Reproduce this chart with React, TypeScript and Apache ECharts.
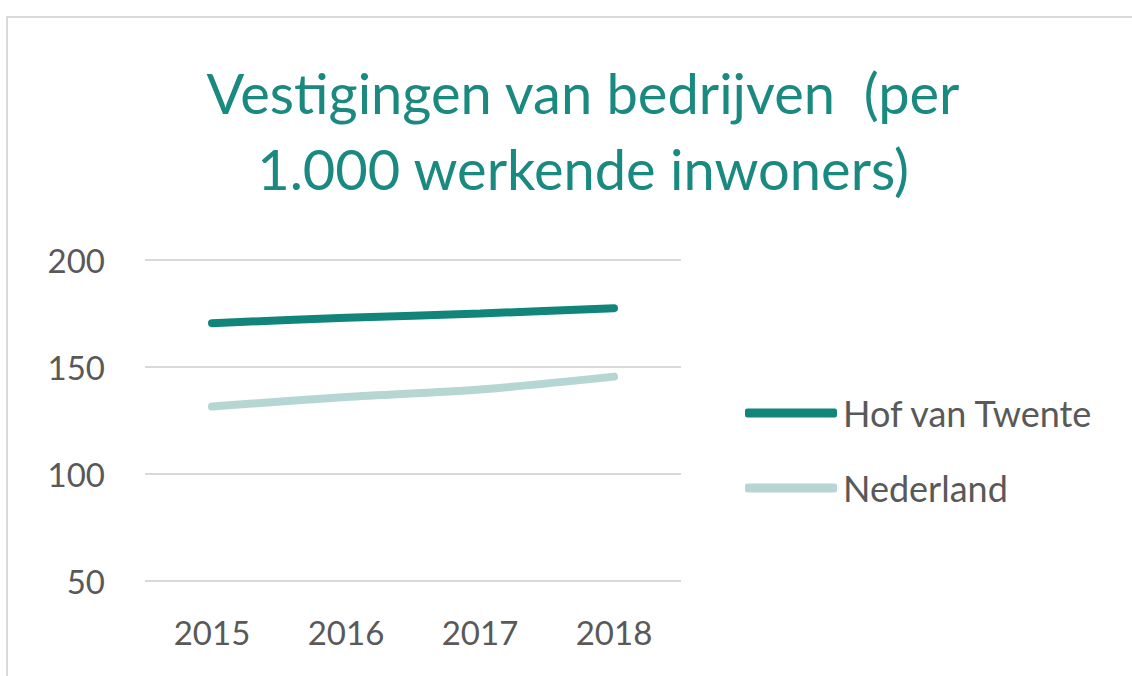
import React, { useEffect, useRef } from "react";
import * as echarts from "echarts";

const years = ["2015", "2016", "2017", "2018"];
const hofVanTwente = [170.5, 173, 175, 177.5];
const nederland = [131.5, 136, 139.5, 145.5];
const yTicks = { min: 50, max: 200, interval: 50 };
const titleLines = ["Vestigingen van bedrijven  (per", "1.000 werkende inwoners)"];

export default function App() {
  const ref = useRef<HTMLDivElement>(null);
  useEffect(() => {
    if (!ref.current) return;
    const chart = echarts.init(ref.current, undefined, { renderer: "svg" });
    const font = "Lato, 'Open Sans', sans-serif";
    chart.setOption({
      animation: false,
      backgroundColor: "#ffffff",
      graphic: [
        {
          type: "rect",
          shape: { x: 7, y: 17, width: 1200, height: 700 },
          style: { fill: "none", stroke: "#d9d9d9", lineWidth: 2 },
          z: -1,
        },
      ],
      title: [
        {
          text: titleLines[0],
          left: 578,
          top: 59,
          textAlign: "center",
          textStyle: { color: "#1a8a80", fontSize: 56, fontWeight: "normal", fontFamily: font },
        },
        {
          text: titleLines[1],
          left: 578,
          top: 135,
          textAlign: "center",
          textStyle: { color: "#1a8a80", fontSize: 56, fontWeight: "normal", fontFamily: font },
        },
      ],
      legend: {
        orient: "vertical",
        left: 740,
        top: 390,
        itemGap: 39,
        itemWidth: 92,
        itemHeight: 9,
        icon: "roundRect",
        textStyle: { color: "#595959", fontSize: 36, fontFamily: font, padding: [0, 0, 0, 1] },
        data: ["Hof van Twente", "Nederland"],
      },
      grid: { left: 145, right: 451, top: 260, bottom: 95 },
      xAxis: {
        type: "category",
        data: years,
        boundaryGap: true,
        axisLine: { show: false },
        axisTick: { show: false },
        axisLabel: { color: "#595959", fontSize: 33, fontFamily: font, margin: 34 },
      },
      yAxis: {
        type: "value",
        min: yTicks.min,
        max: yTicks.max,
        interval: yTicks.interval,
        axisLine: { show: false },
        axisTick: { show: false },
        axisLabel: { color: "#595959", fontSize: 33, fontFamily: font, margin: 40 },
        splitLine: { lineStyle: { color: "#d9d9d9", width: 2 } },
      },
      series: [
        {
          name: "Hof van Twente",
          type: "line",
          data: hofVanTwente,
          showSymbol: false,
          smooth: 0.3,
          itemStyle: { color: "#12857a" },
          lineStyle: { color: "#12857a", width: 8, cap: "round" },
        },
        {
          name: "Nederland",
          type: "line",
          data: nederland,
          showSymbol: false,
          smooth: 0.3,
          itemStyle: { color: "#b5d6d3" },
          lineStyle: { color: "#b5d6d3", width: 8, cap: "round" },
        },
      ],
    });
    return () => chart.dispose();
  }, []);
  return (
    <div
      ref={ref}
      style={{ position: "absolute", left: 0, top: 0, width: 1132, height: 676 }}
    />
  );
}
